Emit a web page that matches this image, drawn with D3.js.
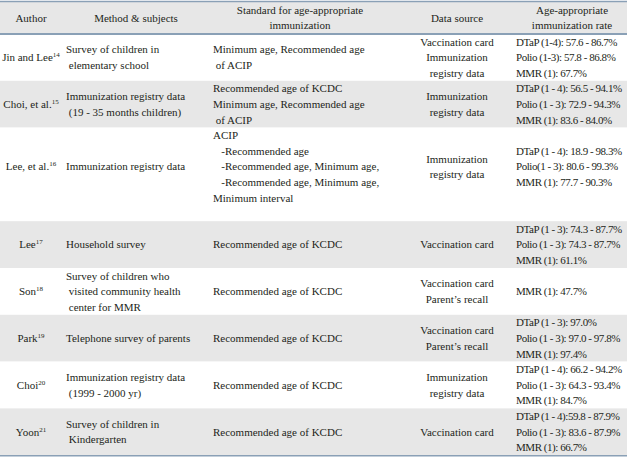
<!DOCTYPE html>
<html>
<head>
<meta charset="utf-8">
<script src="https://cdn.jsdelivr.net/npm/d3@7"></script>
<style>
  body { margin: 0; background: #fff; }
  text { font-family: "Liberation Serif", "Times New Roman", serif; fill: #231f20; }
</style>
</head>
<body>
<svg width="627" height="469"></svg>
<script>
// table content, one array per column
const headers = [["Author"], ["Method & subjects"], ["Standard for age-appropriate", "immunization"], ["Data source"], ["Age-appropriate", "immunization rate"]];
const authors = ["Jin and Lee", "Choi, et al.", "Lee, et al.", "Lee", "Son", "Park", "Choi", "Yoon"];
const refs = ["14", "15", "16", "17", "18", "19", "20", "21"];
const methods = [
  ["Survey of children in", " elementary school"],
  ["Immunization registry data", " (19 - 35 months children)"],
  ["Immunization registry data"],
  ["Household survey"],
  ["Survey of children who", " visited community health", " center for MMR"],
  ["Telephone survey of parents"],
  ["Immunization registry data", " (1999 - 2000 yr)"],
  ["Survey of children in", " Kindergarten"]
];
const standards = [
  ["Minimum age, Recommended age", " of ACIP"],
  ["Recommended age of KCDC", "Minimum age, Recommended age", " of ACIP"],
  ["ACIP", "   -Recommended age", "   -Recommended age, Minimum age,", "   -Recommended age, Minimum age,", "Minimum interval"],
  ["Recommended age of KCDC"],
  ["Recommended age of KCDC"],
  ["Recommended age of KCDC"],
  ["Recommended age of KCDC"],
  ["Recommended age of KCDC"]
];
const sources = [
  ["Vaccination card", "Immunization", "registry data"],
  ["Immunization", "registry data"],
  ["Immunization", "registry data"],
  ["Vaccination card"],
  ["Vaccination card", "Parent\u2019s recall"],
  ["Vaccination card", "Parent\u2019s recall"],
  ["Immunization", "registry data"],
  ["Vaccination card"]
];
const rates = [
  ["DTaP (1-4): 57.6 - 86.7%", "Polio (1-3): 57.8 - 86.8%", "MMR (1): 67.7%"],
  ["DTaP (1 - 4): 56.5 - 94.1%", "Polio (1 - 3): 72.9 - 94.3%", "MMR (1): 83.6 - 84.0%"],
  ["DTaP (1 - 4): 18.9 - 98.3%", "Polio(1 - 3): 80.6 - 99.3%", "MMR (1): 77.7 - 90.3%"],
  ["DTaP (1 - 3): 74.3 - 87.7%", "Polio (1 - 3): 74.3 - 87.7%", "MMR (1): 61.1%"],
  ["MMR (1): 47.7%"],
  ["DTaP (1 - 3): 97.0%", "Polio (1 - 3): 97.0 - 97.8%", "MMR (1): 97.4%"],
  ["DTaP (1 - 4): 66.2 - 94.2%", "Polio (1 - 3): 64.3 - 93.4%", "MMR (1): 84.7%"],
  ["DTaP (1 - 4):59.8 - 87.9%", "Polio (1 - 3): 83.6 - 87.9%", "MMR (1): 66.7%"]
];

const svg = d3.select('svg');
const W = +svg.attr('width');
const lh = 15.6;          // line height
const fs = 11;
const headTop = 1.5, headBottom = 34;

// row sizes in line slots (Lee et al. carries an empty trailing line)
const slots = authors.map((a, i) => Math.max(3, standards[i].length + 1 * (standards[i].length > 3)));
const starts = d3.cumsum([0].concat(slots));
const yScale = d3.scaleLinear().domain([0, d3.sum(slots)]).range([headBottom, headBottom + d3.sum(slots) * lh]);
const tableBottom = yScale(d3.sum(slots));

// columns: header centre, text anchor, x and letter spacing
const cols = [
  { head: 31, x: 31, anchor: 'middle', ls: 0 },
  { head: 136, x: 66, anchor: 'start', ls: 0 },
  { head: 300, x: 213, anchor: 'start', ls: 0 },
  { head: 457, x: 457, anchor: 'middle', ls: 0 },
  { head: 572, x: 516, anchor: 'start', ls: -0.45 }
];

// backgrounds
svg.append('rect').attr('x', 0).attr('y', headTop).attr('width', W).attr('height', headBottom - headTop).attr('fill', '#e7e7e7');
svg.append('g').selectAll('rect')
  .data(authors)
  .join('rect')
  .attr('x', 0)
  .attr('y', (d, i) => yScale(starts[i]))
  .attr('width', W)
  .attr('height', (d, i) => yScale(starts[i] + slots[i]) - yScale(starts[i]))
  .attr('fill', (d, i) => i % 2 ? '#e7e7e7' : '#fff');

// rules
const rule = (y, w) => svg.append('line').attr('x1', 0).attr('x2', W).attr('y1', y).attr('y2', y)
  .attr('stroke', '#8aa0b6').attr('stroke-width', w);
rule(headTop, 1.5);
rule(headBottom, 2);
rule(tableBottom + 0.5, 1.5);

// header text
headers.forEach((lines, c) => {
  const mid = (headTop + headBottom) / 2;
  svg.append('g').selectAll('text')
    .data(lines)
    .join('text')
    .attr('x', cols[c].head)
    .attr('y', (d, k) => mid + (k - (lines.length - 1) / 2) * lh)
    .attr('dy', '0.35em')
    .attr('text-anchor', 'middle')
    .attr('font-size', fs)
    .text(d => d);
});

// cell text, vertically centred on the used lines of each row
const cellCols = [methods, standards, sources, rates];
const body = svg.append('g');
authors.forEach((a, i) => {
  const used = Math.min(slots[i], Math.max(3, standards[i].length));
  const mid = yScale(starts[i] + used / 2);
  // author with reference superscript
  const t = body.append('text')
    .attr('x', cols[0].x)
    .attr('y', mid)
    .attr('dy', '0.35em')
    .attr('text-anchor', 'middle')
    .attr('font-size', fs);
  t.append('tspan').text(a);
  t.append('tspan').attr('font-size', 7).attr('dy', -4).text(refs[i]);

  cellCols.forEach((col, c) => {
    const lines = col[i];
    const cc = cols[c + 1];
    body.append('g').selectAll('text')
      .data(lines)
      .join('text')
      .attr('x', cc.x)
      .attr('y', (d, k) => mid + (k - (lines.length - 1) / 2) * lh)
      .attr('dy', '0.35em')
      .attr('text-anchor', cc.anchor)
      .attr('font-size', fs)
      .attr('letter-spacing', cc.ls)
      .style('white-space', 'pre')
      .text(d => d);
  });
});
</script>
</body>
</html>
